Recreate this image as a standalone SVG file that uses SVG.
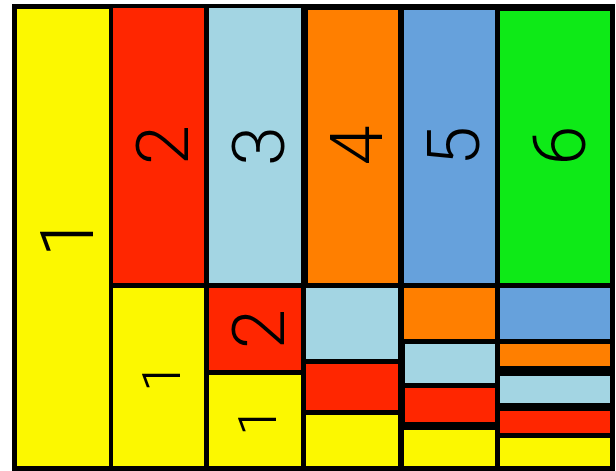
<svg xmlns="http://www.w3.org/2000/svg" width="616" height="471" viewBox="0 0 616 471">
  <style>
    .y { fill: #FCF800; }
    .r { fill: #FF2600; }
    .lb { fill: #A3D5E3; }
    .o { fill: #FF7F00; }
    .b { fill: #66A1DC; }
    .g { fill: #0EEA17; }
    .lbl { font-family: Roboto, "Liberation Sans", sans-serif; font-weight: 300; fill: #000; text-anchor: middle; }
    .big { font-size: 72px; }
    .big1 { font-size: 75px; }
    .sm { font-size: 53px; }
  </style>
  <rect x="0" y="0" width="616" height="471" fill="#ffffff"/>
  <rect id="frame" x="12" y="4" width="603" height="467" fill="#000"/>
  <g id="top-row">
    <g id="n1"><rect class="y" x="17" y="9" width="92" height="457"/>
      <text class="lbl big1" transform="translate(66,236.5) rotate(-90)" x="0" y="27">1</text></g>
    <g id="n2"><rect class="r" x="113" y="8" width="91" height="275"/>
      <text class="lbl big" transform="translate(161.5,145) rotate(-90)" x="0" y="26">2</text></g>
    <g id="n3"><rect class="lb" x="209" y="8" width="92" height="275"/>
      <text class="lbl big" transform="translate(258,146) rotate(-90)" x="0" y="26">3</text></g>
    <g id="n4"><rect class="o" x="308" y="10" width="90" height="273"/>
      <text class="lbl big" transform="translate(355.5,145.5) rotate(-90)" x="0" y="26">4</text></g>
    <g id="n5"><rect class="b" x="404" y="10" width="91" height="273"/>
      <text class="lbl big" transform="translate(453,146) rotate(-90)" x="0" y="26">5</text></g>
    <g id="n6"><rect class="g" x="500" y="11" width="110" height="272"/>
      <text class="lbl big" transform="translate(559,145.5) rotate(-90)" x="0" y="26">6</text></g>
  </g>
  <g id="col2-sub">
    <g id="n2-1"><rect class="y" x="113" y="288" width="91" height="178"/>
      <text class="lbl sm" transform="translate(161,377) rotate(-90)" x="0" y="19">1</text></g>
  </g>
  <g id="col3-sub">
    <g id="n3-2"><rect class="r" x="209" y="288" width="92" height="82"/>
      <text class="lbl big" transform="translate(257.5,329) rotate(-90)" x="0" y="26">2</text></g>
    <g id="n3-1"><rect class="y" x="209" y="375" width="92" height="91"/>
      <text class="lbl sm" transform="translate(257,421) rotate(-90)" x="0" y="19">1</text></g>
  </g>
  <g id="col4-sub">
    <g id="n4-3"><rect class="lb" x="306" y="288" width="92" height="71"/></g>
    <g id="n4-2"><rect class="r" x="306" y="364" width="92" height="46"/></g>
    <g id="n4-1"><rect class="y" x="306" y="415" width="92" height="51"/></g>
  </g>
  <g id="col5-sub">
    <g id="n5-4"><rect class="o" x="404" y="288" width="91" height="51"/></g>
    <g id="n5-3"><rect class="lb" x="405" y="344" width="90" height="39"/></g>
    <g id="n5-2"><rect class="r" x="405" y="388" width="90" height="34"/></g>
    <g id="n5-1"><rect class="y" x="404" y="430" width="91" height="36"/></g>
  </g>
  <g id="col6-sub">
    <g id="n6-5"><rect class="b" x="500" y="288" width="110" height="51"/></g>
    <g id="n6-4"><rect class="o" x="500" y="344" width="110" height="22"/></g>
    <g id="n6-3"><rect class="lb" x="500" y="376" width="110" height="27"/></g>
    <g id="n6-2"><rect class="r" x="500" y="411" width="110" height="22"/></g>
    <g id="n6-1"><rect class="y" x="500" y="438" width="110" height="28"/></g>
  </g>
  <g id="connectors"></g>
</svg>
